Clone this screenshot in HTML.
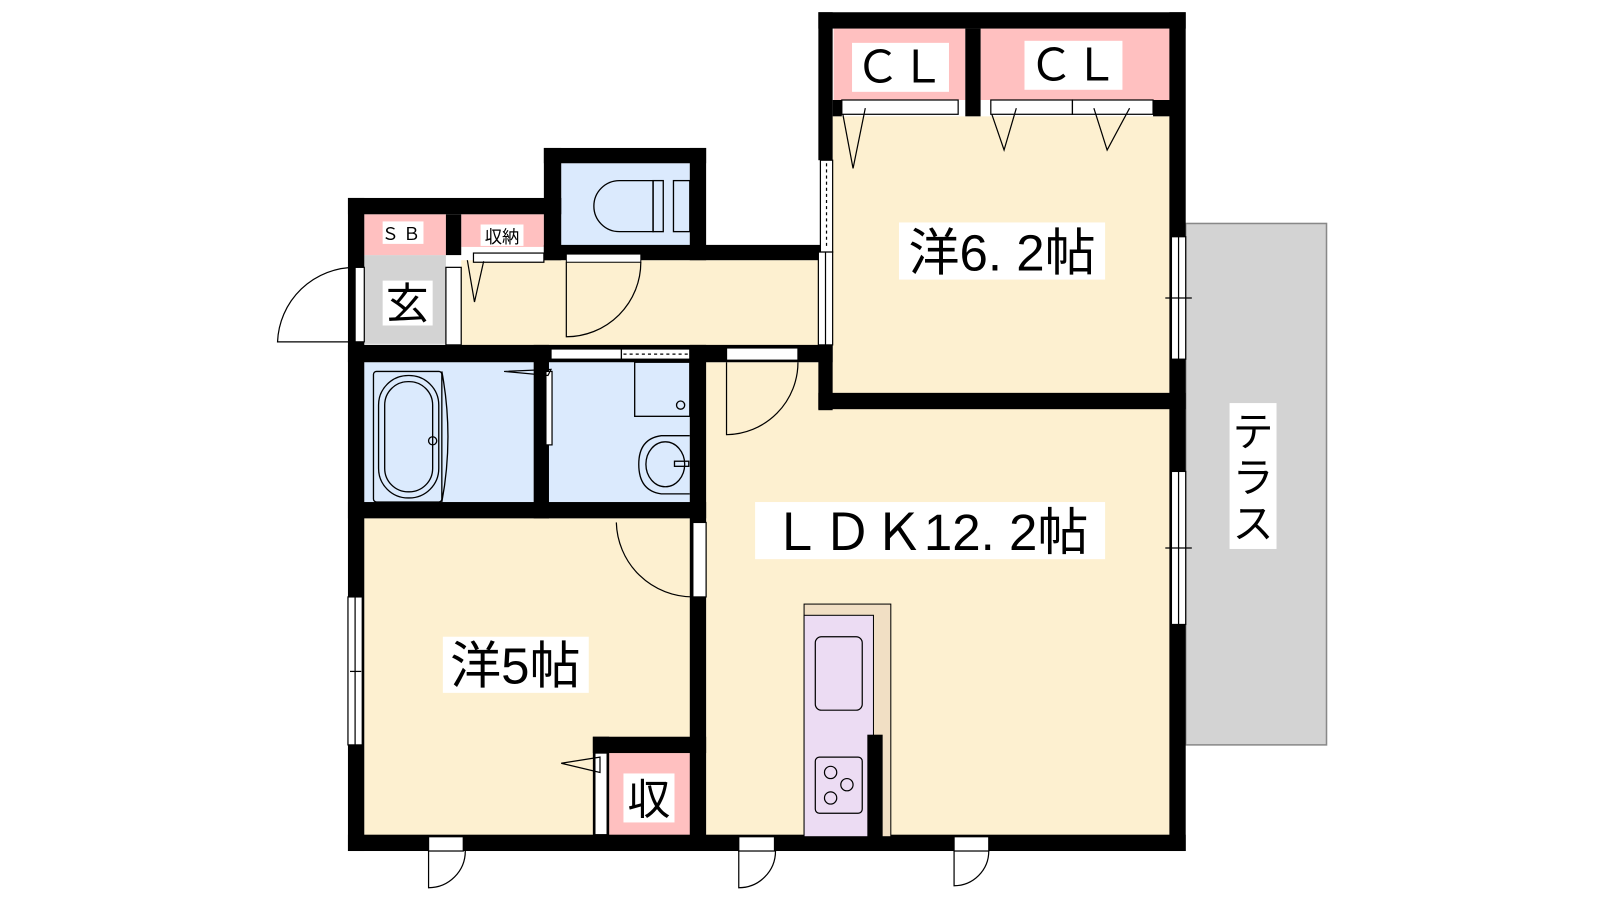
<!DOCTYPE html>
<html><head><meta charset="utf-8"><style>
html,body{margin:0;padding:0;background:#fff;}
svg{display:block;}
text{font-family:"Liberation Sans","Noto Sans CJK JP",sans-serif;}
</style></head><body>
<svg width="1600" height="900" viewBox="0 0 1600 900" xmlns="http://www.w3.org/2000/svg">
<g transform="scale(1.0204)">
<!-- terrace -->
<rect x="1162" y="219" width="138" height="511" fill="#d3d3d3" stroke="#888" stroke-width="1.5"/>
<rect x="1205" y="395" width="46" height="143" fill="#fff"/>
<text x="1228" y="437" font-size="40" text-anchor="middle">テ</text>
<text x="1228" y="482" font-size="40" text-anchor="middle">ラ</text>
<text x="1228" y="527" font-size="40" text-anchor="middle">ス</text>

<!-- floor fills -->
<rect x="357" y="508" width="320" height="312" fill="#fdf0d0"/>
<rect x="692" y="355" width="456" height="465" fill="#fdf0d0"/>
<rect x="816" y="114" width="332" height="272" fill="#fdf0d0"/>
<rect x="452" y="255" width="352" height="85" fill="#fdf0d0"/>
<rect x="357" y="250" width="80" height="87" fill="#d3d3d3"/>
<rect x="357" y="210" width="80" height="40" fill="#ffc0c0"/>
<rect x="452" y="210" width="81" height="32" fill="#ffc0c0"/>
<rect x="550" y="160" width="126" height="82" fill="#dbeafd"/>
<rect x="357" y="355" width="166" height="137" fill="#dbeafd"/>
<rect x="538" y="355" width="138" height="137" fill="#dbeafd"/>
<rect x="817" y="28" width="129" height="70" fill="#ffc0c0"/>
<rect x="961" y="28" width="187" height="70" fill="#ffc0c0"/>
<rect x="597" y="738" width="80" height="82" fill="#ffc0c0"/>

<!-- walls -->
<g fill="#000">
<rect x="341" y="194" width="16" height="640"/>
<rect x="341" y="818" width="821" height="16"/>
<rect x="1146" y="12" width="16" height="822"/>
<rect x="802" y="12" width="360" height="16"/>
<rect x="802" y="12" width="14" height="145"/>
<rect x="802" y="338" width="14" height="64"/>
<rect x="946" y="28" width="15" height="86"/>
<rect x="816" y="98" width="9" height="16"/>
<rect x="1130" y="98" width="18" height="16"/>
<rect x="802" y="385" width="360" height="16"/>
<rect x="341" y="194" width="209" height="16"/>
<rect x="437" y="210" width="15" height="40"/>
<rect x="533" y="145" width="17" height="110"/>
<rect x="533" y="145" width="159" height="15"/>
<rect x="676" y="145" width="16" height="110"/>
<rect x="533" y="240" width="283" height="15"/>
<rect x="341" y="338" width="475" height="17"/>
<rect x="676" y="338" width="16" height="482"/>
<rect x="523" y="338" width="15" height="170"/>
<rect x="341" y="492" width="351" height="16"/>
<rect x="581" y="722" width="111" height="16"/>
<rect x="581" y="722" width="16" height="98"/>
</g>

<g fill="#fff" stroke="#000" stroke-width="1.2">
<rect x="348" y="262" width="9" height="73"/>
<path d="M348 335 L272 335 A76 76 0 0 1 348 262" fill="none"/>
<rect x="437" y="262" width="15" height="76"/>
<rect x="555" y="249" width="73" height="8" stroke-width="1"/>
<path d="M555 257 L555 330 A73 73 0 0 0 628 257" fill="none"/>
<rect x="464" y="248" width="69" height="9"/>
<path d="M458 255 L465 296 L474 256" fill="none"/>
<!-- 6.2 left windows -->
<rect x="804" y="157" width="12" height="90"/>
<line x1="810" y1="160" x2="810" y2="244" stroke-dasharray="3,3"/>
<rect x="802" y="247" width="14" height="91"/>
<line x1="809" y1="247" x2="809" y2="338"/>
<!-- CL sliding doors -->
<rect x="825" y="98" width="114" height="14"/>
<rect x="971" y="98" width="80" height="14"/>
<rect x="1051" y="98" width="79" height="14"/>
<path d="M826 112 L836 165 L848 106" fill="none"/>
<path d="M972 112 L984 147 L996 106" fill="none"/>
<path d="M1107 106 L1085 147 L1072 106" fill="none"/>
<!-- right windows -->
<rect x="1148" y="232" width="14" height="120"/>
<line x1="1155" y1="232" x2="1155" y2="352"/>
<line x1="1142" y1="292" x2="1168" y2="292"/>
<rect x="1148" y="462" width="14" height="150"/>
<line x1="1155" y1="462" x2="1155" y2="612"/>
<line x1="1142" y1="537" x2="1168" y2="537"/>
<rect x="540" y="342" width="69" height="10"/>
<rect x="609" y="342" width="67" height="10"/>
<line x1="611" y1="347" x2="674" y2="347" stroke-dasharray="3,3"/>
<rect x="535" y="364" width="6" height="72"/>
<path d="M494 364 L540 362 L537 368 Z" fill="none"/>
<rect x="712" y="341" width="70" height="12"/>
<path d="M712 355 L712 426 A71 71 0 0 0 782 355" fill="none"/>
<rect x="679" y="512" width="13" height="73"/>
<path d="M679 585 A75 75 0 0 1 604 512" fill="none"/>
<rect x="341" y="585" width="14" height="145"/>
<line x1="348" y1="585" x2="348" y2="730"/>
<line x1="343" y1="658" x2="354" y2="658"/>
<rect x="583" y="738" width="12" height="80"/>
<path d="M550 748 L588 742 L588 757 Z" fill="none"/>
<rect x="420" y="820" width="34" height="14"/>
<path d="M420 834 L420 870 A36 36 0 0 0 456 834" fill="none"/>
<rect x="724" y="820" width="35" height="14"/>
<path d="M724 834 L724 870 A36 36 0 0 0 760 834" fill="none"/>
<rect x="935" y="820" width="34" height="14"/>
<path d="M935 834 L935 868 A34 34 0 0 0 969 834" fill="none"/>
</g>

<g fill="none" stroke="#000" stroke-width="1.3">
<path d="M640 177 L607 177 A25 25 0 0 0 607 227 L640 227 Z"/>
<rect x="640" y="177" width="10" height="50"/>
<rect x="660" y="177" width="16" height="50"/>
<rect x="366" y="364" width="67" height="128" rx="3"/>
<rect x="371" y="368" width="59" height="120" rx="29"/>
<rect x="377" y="374" width="47" height="108" rx="23"/>
<circle cx="424" cy="432" r="4"/>
<path d="M433 364 Q445 428 433 492"/>
<rect x="622" y="355" width="54" height="53"/>
<circle cx="667" cy="397" r="4"/>
<path d="M676 427 L648 427 Q626 430 626 455 Q626 481 648 484 L676 484"/>
<ellipse cx="652" cy="455" rx="19" ry="22"/>
<rect x="661" y="452" width="14" height="5"/>
</g>

<!-- kitchen -->
<rect x="788" y="592" width="85" height="228" fill="#f1dfc4" stroke="#000" stroke-width="1"/>
<rect x="788" y="603" width="68" height="217" fill="#ecdcf3" stroke="#000" stroke-width="1"/>
<rect x="799" y="624" width="46" height="72" rx="6" fill="none" stroke="#000" stroke-width="1.2"/>
<rect x="799" y="742" width="46" height="55" rx="4" fill="none" stroke="#000" stroke-width="1.2"/>
<g fill="none" stroke="#000" stroke-width="1.2">
<circle cx="814" cy="757" r="6"/><circle cx="830" cy="769" r="6"/><circle cx="814" cy="782" r="6"/>
</g>
<rect x="850" y="720" width="15" height="100" fill="#000"/>

<!-- labels -->
<rect x="375" y="217" width="40" height="22" fill="#fff"/>
<text x="395" y="235" font-size="17" text-anchor="middle" letter-spacing="4">ＳＢ</text>
<rect x="471" y="220" width="42" height="21" fill="#fff"/>
<text x="492" y="238" font-size="17" text-anchor="middle">収納</text>
<rect x="375" y="275" width="49" height="44" fill="#fff"/>
<text x="399" y="312" font-size="42" text-anchor="middle">玄</text>
<rect x="835" y="42" width="95" height="48" fill="#fff"/>
<text x="882" y="81" font-size="44" text-anchor="middle">ＣＬ</text>
<rect x="1004" y="40" width="96" height="48" fill="#fff"/>
<text x="1052" y="79" font-size="44" text-anchor="middle">ＣＬ</text>
<rect x="881" y="218" width="202" height="56" fill="#fff"/>
<text x="982" y="265" font-size="50" text-anchor="middle">洋6. 2帖</text>
<rect x="740" y="492" width="343" height="56" fill="#fff"/>
<text x="911" y="539" font-size="50" text-anchor="middle">ＬＤＫ12. 2帖</text>
<rect x="434" y="624" width="143" height="55" fill="#fff"/>
<text x="505" y="670" font-size="50" text-anchor="middle">洋5帖</text>
<rect x="611" y="758" width="50" height="48" fill="#fff"/>
<text x="636" y="798" font-size="42" text-anchor="middle">収</text>
</g>
</svg>
</body></html>
